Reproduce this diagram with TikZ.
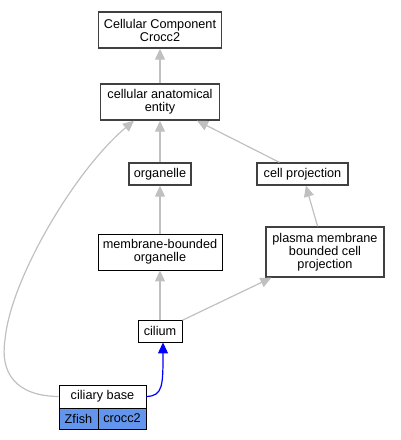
\documentclass[tikz,border=0pt]{standalone}
\usepackage{fontspec}
\setmainfont{Liberation Sans}
\usetikzlibrary{arrows.meta}
\definecolor{edgegrey}{RGB}{192,192,192}
\definecolor{boxline}{RGB}{64,64,64}
\definecolor{cellblue}{RGB}{100,149,237}
\tikzset{
  term/.style={draw=boxline, line width=1.4pt, fill=white, align=center, inner sep=0pt,
    font=\fontsize{12.7}{13}\selectfont},
  thinterm/.style={term, draw=black, line width=0.9pt},
  isa/.style={draw=edgegrey, line width=1.2pt, -{Triangle[length=11pt,width=10pt]}},
  part/.style={draw=blue, line width=1.2pt, -{Triangle[length=11pt,width=10pt]}},
}
\begin{document}
\begin{tikzpicture}[x=1pt,y=-1pt]
\useasboundingbox (0,0) rectangle (400,440);
\node[term, minimum width=123pt, minimum height=36pt] (ccc) at (160,30) {Cellular Component\\Crocc2};
\node[term, minimum width=119pt, minimum height=36pt] (cae) at (160,102) {cellular anatomical\\entity};
\node[term, minimum width=62pt, minimum height=22pt] (org) at (160,174) {organelle};
\node[term, minimum width=91pt, minimum height=22pt] (cp) at (302.5,174) {cell projection};
\node[thinterm, minimum width=124pt, minimum height=36pt] (mbo) at (160,252) {membrane-bounded\\organelle};
\node[term, minimum width=118pt, minimum height=50pt] (pm) at (325,252) {plasma membrane\\bounded cell\\projection};
\node[thinterm, minimum width=44pt, minimum height=22pt] (cil) at (160,331) {cilium};
\node[thinterm, minimum width=87pt, minimum height=23pt] (cb) at (102.5,396.5) {ciliary base};
\node[thinterm, fill=cellblue, minimum width=39pt, minimum height=21pt] (zf) at (78.5,418.5) {Zfish};
\node[thinterm, fill=cellblue, minimum width=48pt, minimum height=21pt] (cr) at (122,418.5) {crocc2};

\draw[isa] (cae) -- (ccc);
\draw[isa] (org) -- (cae);
\draw[isa] (cp) -- (cae);
\draw[isa] (mbo) -- (org);
\draw[isa] (pm) -- (cp);
\draw[isa] (cil) -- (mbo);
\draw[isa] (cil) -- (pm);
\draw[isa] (cb.west) .. controls (15,396) and (0,372) .. (5,340) .. controls (10,280) and (75,170) .. (cae.south west -| 134,120);
\draw[part] (cb.east) .. controls (163,396) and (163,385) .. (cil.south -| 163,342);
\end{tikzpicture}
\end{document}
